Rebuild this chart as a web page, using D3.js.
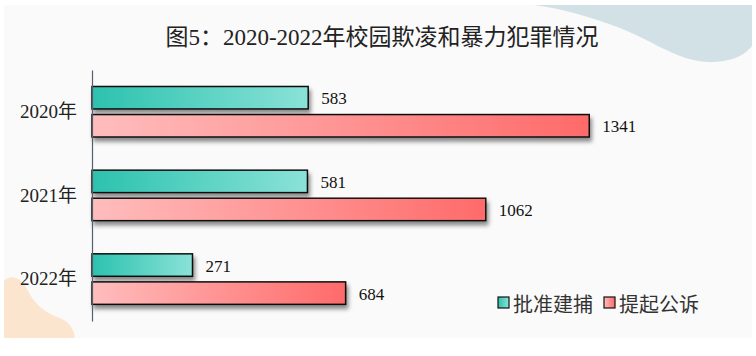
<!DOCTYPE html>
<html><head><meta charset="utf-8">
<script src="https://cdn.jsdelivr.net/npm/d3@7"></script>
<style>html,body{margin:0;padding:0;background:#fff;}svg{display:block;}
.serif{font-family:"Liberation Serif","Times New Roman",Tinos,"DejaVu Serif",serif;}
.serifcjk{font-family:"Liberation Serif","Times New Roman",Tinos,"Noto Sans CJK SC",serif;}
</style>
</head><body>
<svg id="c" width="756" height="356"></svg>
<script>
const categories = ["2020年", "2021年", "2022年"];
const seriesNames = ["批准建捕", "提起公诉"];
const arrests = [583, 581, 271];
const prosecutions = [1341, 1062, 684];
const title = "图5：2020-2022年校园欺凌和暴力犯罪情况";

const svg = d3.select("#c");
const defs = svg.append("defs");
function grad(id, c0, c1) {
  const g = defs.append("linearGradient").attr("id", id).attr("x1", "0").attr("x2", "1").attr("y1", "0").attr("y2", "0");
  g.append("stop").attr("offset", "0").attr("stop-color", c0);
  g.append("stop").attr("offset", "1").attr("stop-color", c1);
}
grad("gTeal", "#2cc2ae", "#8ae2d8");
grad("gPink", "#ffbdbd", "#ff6a6a");
const f = defs.append("filter").attr("id", "sh").attr("x", "-10%").attr("y", "-30%").attr("width", "130%").attr("height", "190%");
f.append("feDropShadow").attr("dx", 2).attr("dy", 4).attr("stdDeviation", 2).attr("flood-color", "#000").attr("flood-opacity", 0.45);

// panel background
svg.append("rect").attr("x", 4).attr("y", 5).attr("width", 748).attr("height", 333).attr("fill", "#fafafa");
// decorative blobs
svg.append("path").attr("d", "M534,5 C565,9 590,17 620,28 C655,42 680,62 710,62 C732,62 745,55 752,46 L752,5 Z").attr("fill", "#d2e1e5");
svg.append("path").attr("d", "M4,281 C10,274 21,276 28,291 C35,305 46,313 60,318 C70,322 74,330 75,338 L4,338 Z").attr("fill", "#fce5cf");

// title
svg.append("text").attr("class", "serifcjk").attr("x", 382).attr("y", 37).attr("text-anchor", "middle").attr("dominant-baseline", "central")
  .attr("font-size", 23).attr("fill", "#222").text(title);

const x = d3.scaleLinear().domain([0, 1600]).range([92, 92 + 0.3708 * 1600]);
const y0 = d3.scaleBand().domain(categories).range([70, 321]).padding(0);
const y1 = d3.scaleBand().domain(seriesNames).range([16.5, 67]).paddingInner(0.2);
const fills = {"批准建捕": "url(#gTeal)", "提起公诉": "url(#gPink)"};

const data = categories.map((c, i) => ({cat: c, vals: [
  {s: seriesNames[0], v: arrests[i]}, {s: seriesNames[1], v: prosecutions[i]}]}));

const g = svg.append("g").attr("class", "groups").selectAll("g").data(data).join("g")
  .attr("transform", d => `translate(0,${y0(d.cat)})`);
g.selectAll("rect").data(d => d.vals).join("rect")
  .attr("x", x(0)).attr("y", d => y1(d.s)).attr("width", d => x(d.v) - x(0)).attr("height", y1.bandwidth())
  .attr("fill", d => fills[d.s]).attr("stroke", "#111").attr("stroke-width", 1.5).attr("filter", "url(#sh)");
g.selectAll("text.v").data(d => d.vals).join("text").attr("class", "v serif")
  .attr("x", d => x(d.v) + 13).attr("y", d => y1(d.s) + y1.bandwidth() / 2 + 1).attr("dominant-baseline", "central")
  .attr("font-size", 17).attr("fill", "#111").text(d => d.v);

// y axis
const ax = svg.append("g").attr("transform", `translate(${x(0)},0)`).call(d3.axisLeft(y0).tickSize(0).tickPadding(15));
ax.attr("font-family", null).attr("font-size", null);
ax.select(".domain").attr("stroke", "#565d6b").attr("stroke-width", 1.2);
ax.selectAll("text").attr("class", "serifcjk").attr("font-size", 19).attr("fill", "#222");

// legend
const legX = [498, 604];
const leg = svg.append("g").selectAll("g").data(seriesNames).join("g").attr("transform", (d, i) => `translate(${legX[i]},297)`);
leg.append("rect").attr("width", 11).attr("height", 11).attr("fill", d => fills[d]).attr("stroke", "#111").attr("stroke-width", 1.2);
leg.append("text").attr("x", 15).attr("y", 6).attr("dominant-baseline", "central")
  .attr("font-family", "'Noto Sans CJK SC',sans-serif").attr("font-size", 20).attr("fill", "#333").text(d => d);
</script>
</body></html>
